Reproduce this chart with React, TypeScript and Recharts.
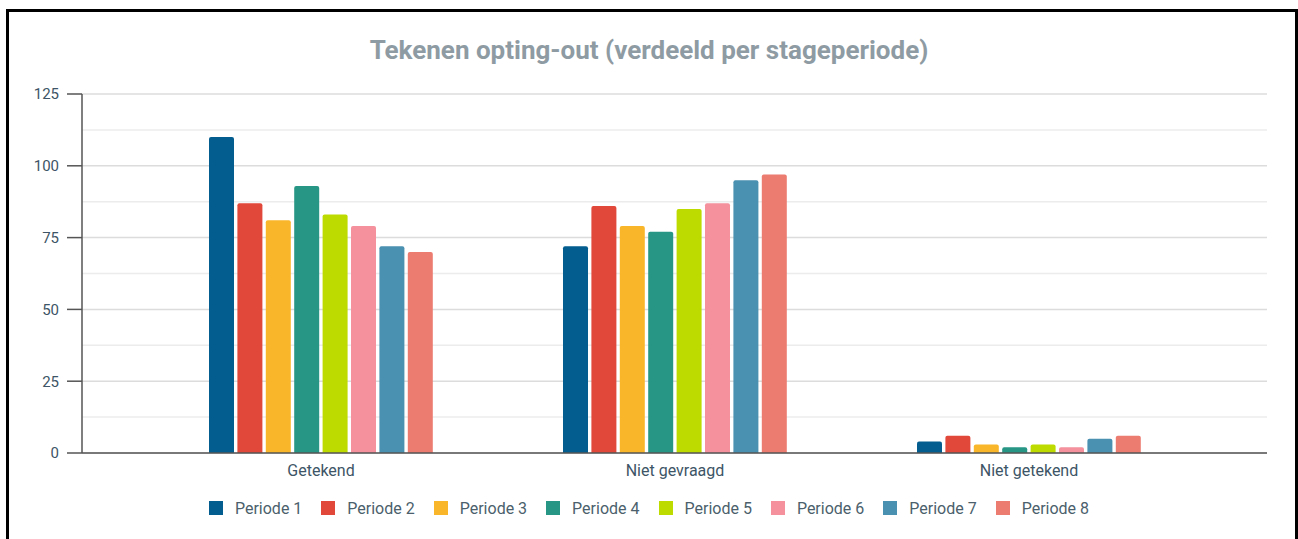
import React from 'react';
import {
    BarChart,
    Bar,
    XAxis,
    YAxis,
    CartesianGrid,
    Legend,
} from 'recharts';

// Categories and values per stageperiode
const categories = ['Getekend', 'Niet gevraagd', 'Niet getekend'];
const periode1 = [110, 72, 4];
const periode2 = [87, 86, 6];
const periode3 = [81, 79, 3];
const periode4 = [93, 77, 2];
const periode5 = [83, 85, 3];
const periode6 = [79, 87, 2];
const periode7 = [72, 95, 5];
const periode8 = [70, 97, 6];

const seriesNames = ['Periode 1', 'Periode 2', 'Periode 3', 'Periode 4', 'Periode 5', 'Periode 6', 'Periode 7', 'Periode 8'];
const seriesValues = [periode1, periode2, periode3, periode4, periode5, periode6, periode7, periode8];
const seriesColors = ['#035e8f', '#e2483a', '#f9b62a', '#279685', '#bedb00', '#f4919c', '#4a90b0', '#ec7b70'];

const yTicks = [0, 25, 50, 75, 100, 125];
const minorTicks = [12.5, 37.5, 62.5, 87.5, 112.5];
const yMax = 125;

const FONT = 'Roboto, "Noto Sans", sans-serif';
const TEXT_COLOR = '#3d5566';

const chartData = categories.map((name, i) => {
    const row: Record<string, string | number> = { name };
    seriesNames.forEach((s, j) => {
        row[s] = seriesValues[j][i];
    });
    return row;
});

// Minor gridlines at the half-steps, placed in the plot area of the chart
const minorGridGenerator = ({ yAxis, offset }: any) => {
    const scale = yAxis?.scale;
    if (typeof scale === 'function') return minorTicks.map(t => scale(t));
    if (scale && typeof scale.map === 'function') return minorTicks.map(t => scale.map(t));
    if (!offset) return [];
    return minorTicks.map(t => offset.top + offset.height * (1 - t / yMax));
};

// Legend with square swatches, fixed height so the plot stays put
const SquareLegend = () => (
    <div style={{ display: 'flex', justifyContent: 'center', height: 30, alignItems: 'center', paddingLeft: 19 }}>
        {seriesNames.map((s, i) => (
            <div key={s} style={{ display: 'flex', alignItems: 'center', marginRight: 19 }}>
                <span style={{ width: 14, height: 14, background: seriesColors[i], display: 'inline-block', marginRight: 12 }} />
                <span style={{ fontFamily: FONT, fontSize: 16, color: '#4b5f6c' }}>{s}</span>
            </div>
        ))}
    </div>
);

export default function App() {
    return (
        <div style={{ position: 'absolute', left: 0, top: 0, width: 1298, height: 539, background: '#fff', overflow: 'hidden' }}>
            {/* frame */}
            <div style={{ position: 'absolute', left: 6, top: 9, width: 1286, height: 600, border: '3px solid #000' }} />
            <div
                style={{
                    position: 'absolute',
                    left: 0,
                    width: 1298,
                    top: 35,
                    textAlign: 'center',
                    fontFamily: FONT,
                    fontWeight: 700,
                    fontSize: 26,
                    color: '#8e9ba3',
                }}
            >
                Tekenen opting-out (verdeeld per stageperiode)
            </div>
            <div style={{ position: 'absolute', left: 0, top: 0 }}>
                <BarChart
                    width={1298}
                    height={539}
                    data={chartData}
                    margin={{ top: 94, right: 31, left: 22, bottom: 26 }}
                    barSize={25}
                    barGap={3.4}
                >
                    <CartesianGrid
                        horizontal
                        vertical={false}
                        stroke="#ececec"
                        strokeWidth={1.5}
                        horizontalCoordinatesGenerator={minorGridGenerator}
                    />
                    <CartesianGrid horizontal vertical={false} stroke="#dcdcdc" strokeWidth={1.5} />
                    <XAxis
                        dataKey="name"
                        padding={{ left: 62, right: 61 }}
                        tickLine={false}
                        axisLine={{ stroke: '#555', strokeWidth: 1.5 }}
                        tick={{ fontFamily: FONT, fontSize: 16, fill: TEXT_COLOR }}
                        tickMargin={6}
                        height={30}
                    />
                    <YAxis
                        domain={[0, yMax]}
                        ticks={yTicks}
                        width={60}
                        tickSize={15}
                        tickLine={{ stroke: '#555', strokeWidth: 1.5 }}
                        axisLine={{ stroke: '#555', strokeWidth: 1.5 }}
                        tick={{ fontFamily: FONT, fontSize: 15, fill: TEXT_COLOR }}
                        tickMargin={8}
                    />
                    <Legend
                        verticalAlign="bottom"
                        content={<SquareLegend />}
                        wrapperStyle={{ top: 493, left: 0, width: 1298 }}
                    />
                    {seriesNames.map((s, i) => (
                        <Bar
                            key={s}
                            dataKey={s}
                            fill={seriesColors[i]}
                            radius={[2, 2, 0, 0]}
                            isAnimationActive={false}
                        />
                    ))}
                </BarChart>
            </div>
        </div>
    );
}
